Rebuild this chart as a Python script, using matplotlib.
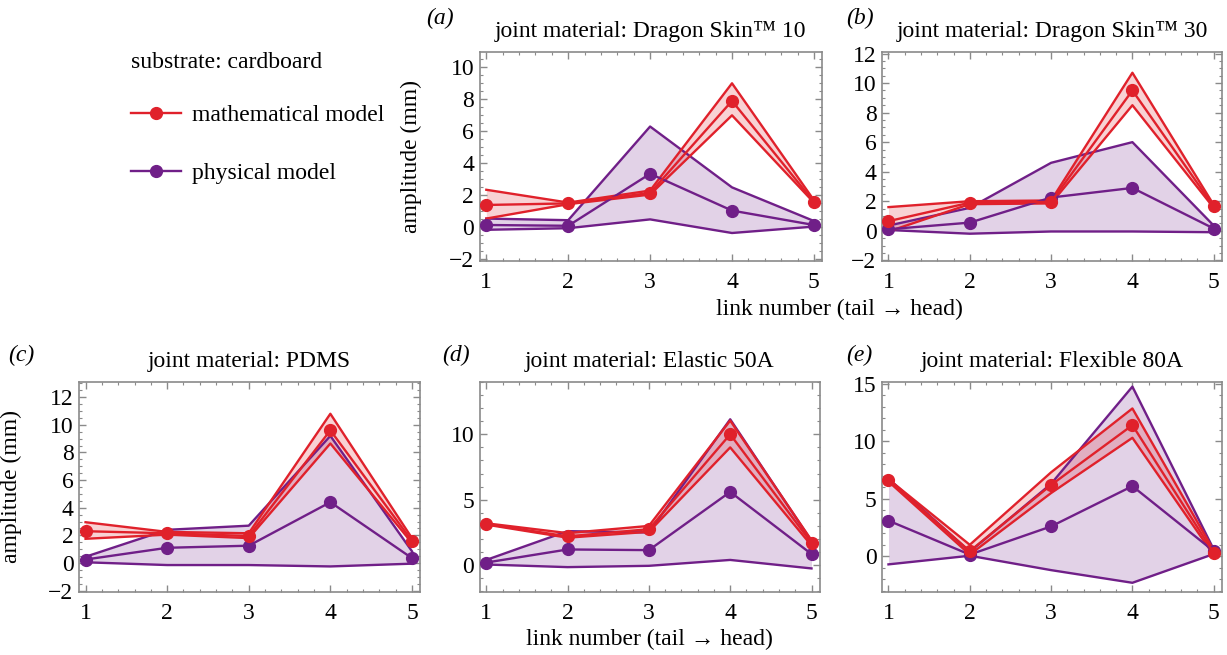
import matplotlib

matplotlib.use("Agg")
import matplotlib.pyplot as plt
import numpy as np
from matplotlib.lines import Line2D
from matplotlib.ticker import MultipleLocator

plt.rcParams["font.family"] = ["Liberation Serif", "DejaVu Serif"]

RED = "#e0212b"
PURPLE = "#701f88"
FRAME = "#8a8a8a"

links = [1, 2, 3, 4, 5]

# (a) Dragon Skin 10
a_math_mean = [1.4, 1.5, 2.15, 7.9, 1.6]
a_math_hi = [2.35, 1.55, 2.3, 9.0, 1.7]
a_math_lo = [0.55, 1.45, 2.05, 7.0, 1.55]
a_phys_mean = [0.15, 0.1, 3.35, 1.05, 0.15]
a_phys_hi = [0.55, 0.45, 6.3, 2.5, 0.4]
a_phys_lo = [-0.15, -0.05, 0.5, -0.35, 0.05]

# (b) Dragon Skin 30
b_math_mean = [0.65, 1.9, 1.95, 9.5, 1.65]
b_math_hi = [1.6, 2.0, 2.05, 10.7, 1.75]
b_math_lo = [-0.05, 1.8, 1.85, 8.5, 1.55]
b_phys_mean = [0.1, 0.55, 2.25, 2.9, 0.15]
b_phys_hi = [0.35, 1.55, 4.6, 6.0, 0.35]
b_phys_lo = [0.05, -0.2, -0.05, -0.05, -0.1]

# (c) PDMS
c_math_mean = [2.3, 2.15, 1.95, 9.6, 1.6]
c_math_hi = [2.95, 2.25, 2.15, 10.8, 1.8]
c_math_lo = [1.75, 2.05, 1.8, 8.65, 1.45]
c_phys_mean = [0.25, 1.1, 1.25, 4.4, 0.35]
c_phys_hi = [0.45, 2.4, 2.7, 9.2, 0.85]
c_phys_lo = [0.05, -0.15, -0.15, -0.25, -0.05]

# (d) Elastic 50A
d_math_mean = [3.15, 2.2, 2.75, 10.0, 1.7]
d_math_hi = [3.2, 2.45, 3.0, 11.05, 1.9]
d_math_lo = [3.1, 2.1, 2.55, 9.0, 1.5]
d_phys_mean = [0.2, 1.2, 1.15, 5.6, 0.85]
d_phys_hi = [0.4, 2.6, 2.5, 11.15, 1.85]
d_phys_lo = [0.05, -0.15, -0.05, 0.4, -0.25]

# (e) Flexible 80A
e_math_mean = [6.6, 0.45, 6.2, 11.4, 0.3]
e_math_hi = [6.7, 1.0, 7.3, 12.85, 0.5]
e_math_lo = [6.5, 0.15, 5.5, 10.3, 0.1]
e_phys_mean = [3.1, 0.15, 2.6, 6.1, 0.45]
e_phys_hi = [6.75, 0.4, 6.3, 14.75, 0.6]
e_phys_lo = [-0.7, 0.05, -1.2, -2.3, 0.2]

panels = [
    ("a", "joint material: Dragon Skin\u2122 10",
     (a_math_mean, a_math_hi, a_math_lo), (a_phys_mean, a_phys_hi, a_phys_lo),
     (-2.1, 10.95), [-2, 0, 2, 4, 6, 8, 10], 0.5),
    ("b", "joint material: Dragon Skin\u2122 30",
     (b_math_mean, b_math_hi, b_math_lo), (b_phys_mean, b_phys_hi, b_phys_lo),
     (-2.05, 12.1), [-2, 0, 2, 4, 6, 8, 10, 12], 0.5),
    ("c", "joint material: PDMS",
     (c_math_mean, c_math_hi, c_math_lo), (c_phys_mean, c_phys_hi, c_phys_lo),
     (-2.1, 13.1), [-2, 0, 2, 4, 6, 8, 10, 12], 0.5),
    ("d", "joint material: Elastic 50A",
     (d_math_mean, d_math_hi, d_math_lo), (d_phys_mean, d_phys_hi, d_phys_lo),
     (-2.05, 14.0), [0, 5, 10], 1),
    ("e", "joint material: Flexible 80A",
     (e_math_mean, e_math_hi, e_math_lo), (e_phys_mean, e_phys_hi, e_phys_lo),
     (-3.1, 15.15), [0, 5, 10, 15], 1),
]

# axes rectangles in figure fraction: left, bottom, width, height
rects = [
    (0.391, 0.6015, 0.279, 0.319),
    (0.7188, 0.6015, 0.277, 0.319),
    (0.0644, 0.0962, 0.278, 0.3206),
    (0.391, 0.0962, 0.277, 0.3206),
    (0.7188, 0.0962, 0.277, 0.3206),
]
# panel letter positions (figure fraction)
tag_pos = {"a": (0.3586, 0.9725), "b": (0.701, 0.9725), "c": (0.0175, 0.458),
           "d": (0.372, 0.458), "e": (0.700, 0.458)}

FS = 17


def draw_series(ax, mean, hi, lo, color):
    x = np.array(links)
    ax.fill_between(x, lo, hi, color=color, alpha=0.2, linewidth=0, zorder=1)
    ax.plot(x, hi, color=color, lw=1.7, zorder=2)
    ax.plot(x, lo, color=color, lw=1.7, zorder=2)
    ax.plot(x, mean, color=color, lw=1.7, marker="o", ms=8.5, zorder=3)


fig = plt.figure(figsize=(12.27, 6.55), dpi=100)

for (tag, title, math, phys, ylim, yticks, yminor), rect in zip(panels, rects):
    ax = fig.add_axes(rect)
    draw_series(ax, *phys, PURPLE)
    draw_series(ax, *math, RED)
    ax.set_xlim(0.92, 5.1)
    ax.set_ylim(*ylim)
    ax.set_xticks(links)
    ax.set_yticks(yticks)
    ax.xaxis.set_minor_locator(MultipleLocator(0.2))
    ax.yaxis.set_minor_locator(MultipleLocator(yminor))
    ax.set_yticklabels([str(v).replace("-", "\u2212") for v in yticks])
    for s in ax.spines.values():
        s.set_color(FRAME)
        s.set_linewidth(1.2)
    ax.tick_params(which="both", direction="in", top=True, right=True,
                   color=FRAME, labelsize=FS)
    ax.tick_params(axis="x", pad=8)
    ax.tick_params(axis="y", pad=4)
    ax.tick_params(which="major", length=5, width=1)
    ax.tick_params(which="minor", length=2.5, width=0.8)
    ax.set_title(title, fontsize=FS, pad=11)
    fig.text(*tag_pos[tag], f"({tag})", fontsize=FS, style="italic",
             ha="center", va="center")
    if tag in ("a", "c"):
        ax.set_ylabel("amplitude (mm)", fontsize=FS)
        ax.yaxis.set_label_coords(-0.168, 0.5)

fig.text(0.684, 0.527, "link number (tail \u2192 head)", fontsize=FS,
         ha="center", va="center")
fig.text(0.529, 0.024, "link number (tail \u2192 head)", fontsize=FS,
         ha="center", va="center")

fig.text(0.1068, 0.905, "substrate: cardboard", fontsize=FS,
         ha="left", va="center")
handles = [
    Line2D([], [], color=RED, lw=1.7, marker="o", ms=8.5),
    Line2D([], [], color=PURPLE, lw=1.7, marker="o", ms=8.5),
]
fig.legend(handles, ["mathematical model", "physical model"],
           loc="upper left", bbox_to_anchor=(0.1068, 0.840),
           frameon=False, fontsize=FS, handlelength=2.1, handletextpad=0.5,
           labelspacing=1.55, borderpad=0, borderaxespad=0)

fig.savefig("out.png", dpi=100)
